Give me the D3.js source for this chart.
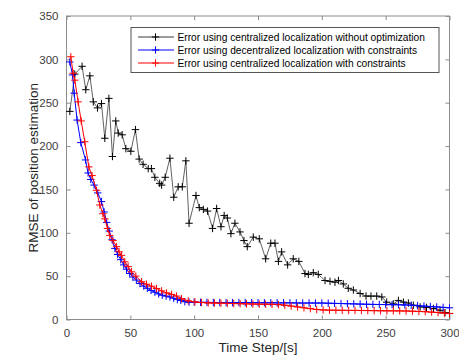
<!DOCTYPE html>
<html>
<head>
<meta charset="utf-8">
<script src="https://cdn.jsdelivr.net/npm/d3@7"></script>
<style>
  body { margin: 0; background: #fff; }
  text { font-family: "Liberation Sans", Arial, Helvetica, sans-serif; }
</style>
</head>
<body>
<script>
// series
const seriesNames = [
  "Error using centralized localization without optimization",
  "Error using decentralized localization with constraints",
  "Error using centralized localization with constraints"
];
const seriesColors = ["#000000", "#0000ff", "#ff0000"];

const blackT = [2.6, 6.5, 12.2, 15.1, 18.3, 21, 24.3, 27.4, 30, 33.2, 36, 38.6, 40.5, 43.6, 46.5,
  50.4, 54, 56.9, 60, 64, 66.5, 69.2, 73, 74.5, 77.3, 81, 84, 87.5, 90.7, 93.5,
  96, 101.4, 104, 107.2, 110.5, 114.4, 117.6, 121, 123.5, 126, 128.8, 131.9, 135.9, 139, 141.6,
  146.3, 151, 156, 160, 163.3, 166, 168.5, 173.2, 177.6, 182, 186.8, 189.4, 193.3, 197.2, 202.5,
  206.4, 210.3, 213, 216.8, 220.7, 224.7, 230, 234.6, 238.5, 243, 247, 250.8, 256, 260, 263.9,
  267.8, 271.7, 277, 282, 287.4, 292.6, 296.5, 300];
const blackV = [240, 283, 292, 265, 281, 251, 244, 249, 209, 255, 188, 229, 215, 213, 197,
  194, 219, 185, 179, 174, 174, 164, 157, 155, 164, 186, 141, 153, 153, 183,
  111, 143, 129, 127, 125, 105, 128, 107, 120, 117, 99, 111, 101, 91, 84,
  95, 93, 70, 88, 88, 67, 78, 63, 70, 67, 53, 52, 54, 52, 45,
  44, 43, 45, 41, 36, 34, 30, 27, 27, 27, 26, 20, 18, 22, 20,
  19, 16.5, 14.5, 14, 12.7, 10.7, 8, 7];

const blueT = [2.6, 4.7, 6, 8.3, 11.2, 14.9, 16.9, 19, 21.6, 24.5, 27.4, 29.5, 31.5, 33.5, 35.7,
  37.9, 40, 42.5, 44.8, 47, 49.5, 52, 54.7, 57.5, 60.5, 63.3, 66.2, 69.2, 72.2, 75,
  78, 81, 84, 86.8, 89.5, 92.7, 96, 100, 105, 110, 115, 120, 125, 130, 135,
  140, 145, 150, 155, 160, 165, 170, 175, 180, 185, 190, 195, 200, 205, 210,
  215, 220, 225, 230, 235, 240, 245, 250, 255, 260, 265, 270, 275, 280, 285,
  290, 295, 300];
const blueV = [297, 282, 261, 230, 204, 184, 169, 161.5, 155, 146, 136, 124, 112, 102, 92,
  82, 75, 69, 63, 58, 53, 49, 45.5, 41.5, 38.5, 36, 33.5, 31.5, 29.5, 28,
  27, 26, 24.5, 23, 22, 20.5, 20, 20, 19.8, 19.8, 19.6, 19.6, 19.5, 19.5, 19.5,
  19.5, 19.4, 19.4, 19.3, 19.3, 19.2, 19.2, 19.2, 19.1, 19, 19, 19, 19, 18.8, 18.6,
  18.4, 18.2, 18, 17.8, 17.6, 17.4, 17.3, 17.2, 17.1, 17, 16.8, 16.5, 16, 15.5, 15,
  14.5, 14, 13.5];

const redT = [3.4, 5.2, 6.5, 9.1, 11.5, 14.3, 17.5, 20, 23.5, 26.1, 28.5, 30, 32.1, 33.9, 36.5,
  39.2, 41.2, 43.1, 45.7, 48.3, 50.9, 54.3, 58.8, 62.7, 66.6, 70.5, 74.5, 78.4, 82.3, 86.2,
  90.1, 95.3, 100.6, 105.8, 111, 116, 121, 126, 131, 136, 141, 146, 151, 156, 161,
  166, 171, 176, 181, 186, 191, 196, 201, 206, 211, 216, 221, 226, 231, 236,
  241, 246, 251, 256, 261, 266, 271, 276, 281, 286, 291, 296, 300];
const redV = [303, 284, 276, 251, 229, 205, 176, 166, 149, 132, 122, 116, 105, 97, 91,
  84, 78, 74, 66.5, 61, 55, 50, 43.5, 40.7, 38.4, 35.8, 33, 30.7, 29, 27,
  24, 21.5, 20.3, 19.6, 19, 19, 18.8, 18.6, 18.4, 18.2, 18, 17.8, 17.7, 17.6, 17.5,
  17.2, 16.5, 15.5, 14.5, 13.5, 12.5, 11.5, 11, 10.8, 10.7, 10.6, 10.5, 10.5, 10.4, 10.3,
  10.2, 10.1, 10, 10, 9.9, 9.8, 9.6, 9.3, 9, 8.5, 8, 7.3, 6.8];

const xTicks = [0, 50, 100, 150, 200, 250, 300];
const yTicks = [0, 50, 100, 150, 200, 250, 300, 350];
const xLabel = "Time Step/[s]";
const yLabel = "RMSE of position estimation";

const width = 459;
const height = 364;
const plotLeft = 66.5, plotRight = 449.5, plotTop = 16, plotBottom = 319.5;

const svg = d3.select("body").append("svg")
  .attr("width", width)
  .attr("height", height)
  .attr("viewBox", [0, 0, width, height]);

const x = d3.scaleLinear().domain([0, 300]).range([plotLeft, plotRight]);
const y = d3.scaleLinear().domain([0, 350]).range([plotBottom, plotTop]);

const axisColor = "#8c8c8c";
const labelColor = "#404040";

// axes box
svg.append("rect")
  .attr("x", plotLeft).attr("y", plotTop)
  .attr("width", plotRight - plotLeft).attr("height", plotBottom - plotTop)
  .attr("fill", "#fff").attr("stroke", axisColor).attr("stroke-width", 1);

// inward ticks on all four sides, labels only on bottom/left
const xAxis = svg.append("g").attr("transform", `translate(0,${plotBottom})`)
  .call(d3.axisBottom(x).tickValues(xTicks).tickSizeInner(-4).tickSizeOuter(0).tickPadding(9));
const xAxisTop = svg.append("g").attr("transform", `translate(0,${plotTop})`)
  .call(d3.axisTop(x).tickValues(xTicks).tickSizeInner(-4).tickSizeOuter(0).tickFormat(""));
const yAxis = svg.append("g").attr("transform", `translate(${plotLeft},0)`)
  .call(d3.axisLeft(y).tickValues(yTicks).tickSizeInner(-4).tickSizeOuter(0).tickPadding(8));
const yAxisRight = svg.append("g").attr("transform", `translate(${plotRight},0)`)
  .call(d3.axisRight(y).tickValues(yTicks).tickSizeInner(-4).tickSizeOuter(0).tickFormat(""));

[xAxis, xAxisTop, yAxis, yAxisRight].forEach(g => {
  g.select(".domain").remove();
  g.selectAll(".tick line").attr("stroke", axisColor);
  g.selectAll(".tick text")
    .attr("fill", labelColor)
    .style("font-size", "11.5px")
    .style("font-family", "'Liberation Sans', Arial, sans-serif");
});

// axis labels
svg.append("text")
  .attr("x", (plotLeft + plotRight) / 2)
  .attr("y", 352)
  .attr("text-anchor", "middle")
  .attr("fill", "#262626")
  .style("font-size", "13.5px")
  .text(xLabel);

svg.append("text")
  .attr("transform", `translate(38,${(plotTop + plotBottom) / 2}) rotate(-90)`)
  .attr("text-anchor", "middle")
  .attr("fill", "#262626")
  .style("font-size", "13.5px")
  .text(yLabel);

const plot = svg.append("g");

const line = d3.line().x(d => x(d[0])).y(d => y(d[1]));

function plus(g, pts, color, half) {
  g.selectAll("path.mk").data(pts).join("path")
    .attr("class", "mk")
    .attr("d", d => `M${x(d[0]) - half},${y(d[1])}H${x(d[0]) + half}M${x(d[0])},${y(d[1]) - half}V${y(d[1]) + half}`)
    .attr("stroke", color)
    .attr("stroke-width", 1)
    .attr("fill", "none");
}

const allSeries = [
  { t: blackT, v: blackV, color: seriesColors[0], lineColor: "#3a3a3a", lw: 0.8 },
  { t: blueT, v: blueV, color: seriesColors[1], lineColor: seriesColors[1], lw: 1 },
  { t: redT, v: redV, color: seriesColors[2], lineColor: seriesColors[2], lw: 1 }
];

allSeries.forEach(s => {
  const pts = s.t.map((t, i) => [t, s.v[i]]);
  const g = plot.append("g");
  g.append("path")
    .attr("d", line(pts))
    .attr("fill", "none")
    .attr("stroke", s.lineColor)
    .attr("stroke-width", s.lw);
  plus(g, pts, s.color, 3.7);
});

// legend
const legend = svg.append("g");
legend.append("rect")
  .attr("x", 131).attr("y", 27.5)
  .attr("width", 308).attr("height", 45)
  .attr("fill", "#fff")
  .attr("stroke", "#555")
  .attr("stroke-width", 1);

seriesNames.forEach((name, i) => {
  const cy = 37 + i * 13;
  legend.append("line")
    .attr("x1", 138).attr("x2", 174)
    .attr("y1", cy).attr("y2", cy)
    .attr("stroke", i === 0 ? "#3a3a3a" : seriesColors[i]).attr("stroke-width", 1);
  legend.append("path")
    .attr("d", `M151.8,${cy}H159.2M155.5,${cy - 3.7}V${cy + 3.7}`)
    .attr("stroke", seriesColors[i]).attr("stroke-width", 1);
  legend.append("text")
    .attr("x", 177.5).attr("y", cy + 3.6)
    .attr("fill", "#000")
    .style("font-size", "10.2px")
    .text(name);
});
</script>
</body>
</html>
